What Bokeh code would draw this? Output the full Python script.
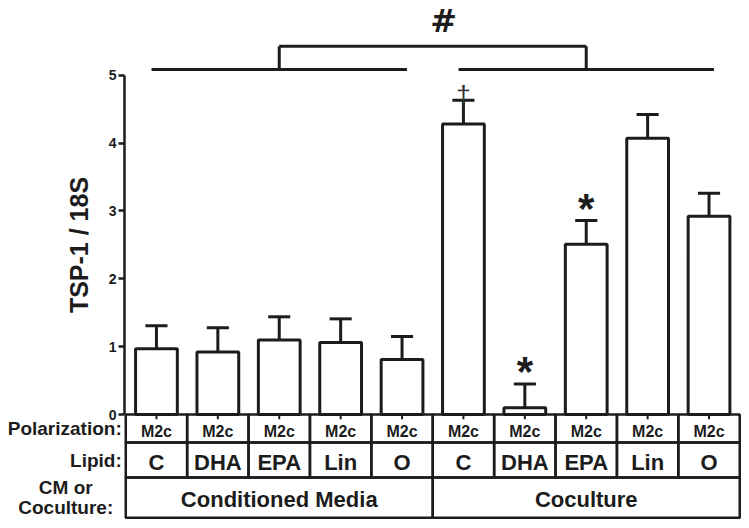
from bokeh.plotting import figure
from bokeh.models import ColumnDataSource, Range1d, FixedTicker
from bokeh.embed import file_html
from bokeh.resources import INLINE
from bokeh.core.properties import value

# ---------------- data ----------------
polarization = ["M2c"] * 10
lipids = ["C", "DHA", "EPA", "Lin", "O", "C", "DHA", "EPA", "Lin", "O"]
groups = ["Conditioned Media", "Coculture"]
group_sizes = [5, 5]
means = [0.97, 0.92, 1.10, 1.06, 0.81, 4.28, 0.10, 2.51, 4.07, 2.92]
sems = [0.34, 0.36, 0.34, 0.35, 0.34, 0.35, 0.35, 0.35, 0.35, 0.34]
marks = ["", "", "", "", "", "\u2020", "*", "*", "", ""]
yticks = [0, 1, 2, 3, 4, 5]
y_label = "TSP-1 / 18S"
row_titles = ["Polarization:", "Lipid:"]
row3_title = ["CM or", "Coculture:"]
sig_label = "#"

# ---------------- layout constants ----------------
FONT = "Liberation Sans"
INK = "#1c1c1c"
LW = 3
row_edges = [0, -0.413, -0.928, -1.522]
group_line_y = 5.085
bracket_top_y = 5.427
AXIS_X = -0.52

n = len(means)
xs = list(range(n))
upper = [m + s for m, s in zip(means, sems)]

p = figure(width=745, height=526, x_range=Range1d(-2.54, 9.594),
           y_range=Range1d(-1.650, 6.101), output_backend="svg",
           toolbar_location=None, x_axis_location=None,
           min_border_left=0, min_border_right=0, min_border_top=0,
           min_border_bottom=0)
p.xgrid.grid_line_color = None
p.ygrid.grid_line_color = None
p.outline_line_color = None

ya = p.yaxis[0]
ya.fixed_location = AXIS_X
ya.bounds = (0, 5)
ya.ticker = FixedTicker(ticks=yticks)
ya.minor_tick_line_color = None
ya.major_tick_in = 0
ya.major_tick_out = 6
ya.major_tick_line_width = 2.5
ya.axis_line_width = 2.5
ya.axis_line_color = INK
ya.major_tick_line_color = INK
ya.major_label_text_font = FONT
ya.major_label_text_font_style = "bold"
ya.major_label_text_font_size = "14px"
ya.major_label_text_color = INK
ya.major_label_standoff = 2
ya.axis_label = y_label
ya.axis_label_text_font = FONT
ya.axis_label_text_font_style = "bold"
ya.axis_label_text_font_size = "25px"
ya.axis_label_text_color = INK
ya.axis_label_standoff = 13

src = ColumnDataSource(dict(
    x=xs, mean=means, upper=upper,
    cl=[x - 0.18 for x in xs], cr=[x + 0.18 for x in xs],
    pol=polarization, lip=lipids, mark=marks,
))

# bars
p.vbar(x="x", top="mean", bottom=0, width=0.68, source=src,
       fill_color="white", line_color=INK, line_width=LW)
# error bars (upper only)
p.segment(x0="x", y0="mean", x1="x", y1="upper", source=src,
          line_color=INK, line_width=LW)
p.segment(x0="cl", y0="upper", x1="cr", y1="upper", source=src,
          line_color=INK, line_width=LW)

# significance marks
star_idx = [i for i, m in enumerate(marks) if m == "*"]
dag_idx = [i for i, m in enumerate(marks) if m == "\u2020"]
p.text(x=[xs[i] for i in star_idx], y=[upper[i] for i in star_idx],
       text=[marks[i] for i in star_idx], text_align="center",
       text_baseline="alphabetic", y_offset=-12, text_font=value(FONT),
       text_font_style="bold", text_font_size="42px", text_color=INK)
p.text(x=[xs[i] for i in dag_idx], y=[upper[i] for i in dag_idx],
       text=[marks[i] for i in dag_idx], text_align="center",
       text_baseline="alphabetic", y_offset=-5, text_font=value(FONT),
       text_font_size="26px", text_color="#333333")

# group brackets
starts = []
s = 0
for g in group_sizes:
    starts.append(s)
    s += g
centers = [st + (g - 1) / 2 for st, g in zip(starts, group_sizes)]
half = [(g - 1) / 2 + 0.08 for g in group_sizes]
p.segment(x0=[c - h for c, h in zip(centers, half)], y0=[group_line_y] * 2,
          x1=[c + h for c, h in zip(centers, half)], y1=[group_line_y] * 2,
          line_color=INK, line_width=LW)
p.segment(x0=centers, y0=[group_line_y] * 2, x1=centers, y1=[bracket_top_y] * 2,
          line_color=INK, line_width=LW)
p.segment(x0=[centers[0]], y0=[bracket_top_y], x1=[centers[1]], y1=[bracket_top_y],
          line_color=INK, line_width=LW)
p.text(x=[sum(centers) / 2], y=[bracket_top_y], text=[sig_label],
       text_align="center", text_baseline="alphabetic", x_offset=11, y_offset=-25,
       text_font=value("DejaVu Sans"), text_font_style="bold",
       text_font_size="32px", text_color=INK)

# table below the axis
for r in range(2):
    p.quad(left=[x - 0.5 for x in xs], right=[x + 0.5 for x in xs],
           top=[row_edges[r]] * n, bottom=[row_edges[r + 1]] * n,
           fill_color=None, line_color=INK, line_width=2.5)
p.quad(left=[st - 0.5 for st in starts],
       right=[st + g - 0.5 for st, g in zip(starts, group_sizes)],
       top=[row_edges[2]] * 2, bottom=[row_edges[3]] * 2,
       fill_color=None, line_color=INK, line_width=2.5)
# x ticks at category centers
p.segment(x0=xs, y0=[0] * n, x1=xs, y1=[-0.07] * n, line_color=INK,
          line_width=2)

mid = [(row_edges[i] + row_edges[i + 1]) / 2 for i in range(3)]
p.text(x="x", y=mid[0], text="pol", source=src, text_align="center",
       text_baseline="middle", y_offset=3, text_font=value(FONT),
       text_font_style="bold", text_font_size="16px", text_color=INK)
p.text(x="x", y=mid[1], text="lip", source=src, text_align="center",
       text_baseline="middle", y_offset=2, text_font=value(FONT),
       text_font_style="bold", text_font_size="22px", text_color=INK)
p.text(x=centers, y=[mid[2]] * 2, text=groups, text_align="center",
       text_baseline="middle", y_offset=2, text_font=value(FONT),
       text_font_style="bold", text_font_size="22px", text_color=INK)

p.text(x=[-0.5] * 2, y=mid[:2], text=row_titles, x_offset=-4,
       text_align="right", text_baseline="middle", text_font=value(FONT),
       text_font_style="bold", text_font_size="19px", text_color=INK)
p.text(x=[-0.5] * 2, y=[mid[2]] * 2, text=row3_title, x_offset=-60,
       y_offset=[-10, 10], text_align="center", text_baseline="middle",
       text_font=value(FONT), text_font_style="bold", text_font_size="19px",
       text_color=INK)

open("out.html", "w").write(file_html(p, INLINE))
